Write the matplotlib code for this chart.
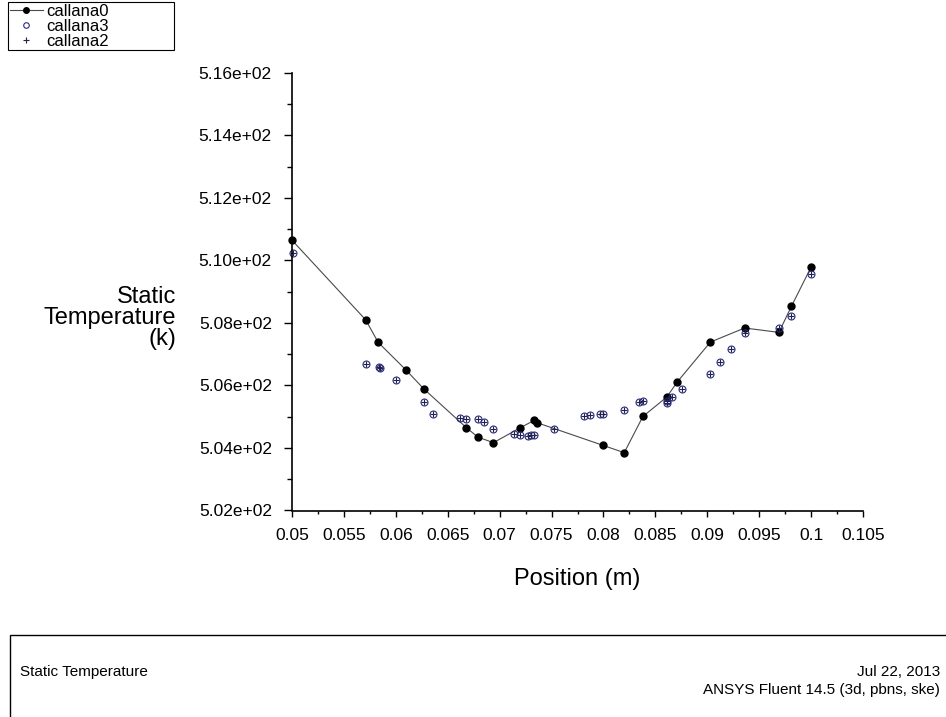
import matplotlib
matplotlib.use("Agg")
import matplotlib.pyplot as plt
from matplotlib.patches import Rectangle
from matplotlib.ticker import MultipleLocator, FormatStrFormatter, FuncFormatter

plt.rcParams['font.family'] = ['Liberation Sans', 'DejaVu Sans']

# callana0: line with filled circles
callana0_x = [0.0500, 0.0571, 0.0583, 0.0610, 0.0627, 0.0668, 0.0679, 0.0694,
              0.0720, 0.0733, 0.0736, 0.0800, 0.0820, 0.0838, 0.0861, 0.0871,
              0.0903, 0.0936, 0.0969, 0.0981, 0.1000]
callana0_y = [510.65, 508.10, 507.38, 506.49, 505.89, 504.65, 504.35, 504.17,
              504.65, 504.88, 504.81, 504.08, 503.85, 505.01, 505.63, 506.11,
              507.39, 507.84, 507.70, 508.53, 509.79]

# callana3: open circles
callana3_x = [0.0501, 0.0571, 0.0584, 0.0585, 0.0600, 0.0627, 0.0636, 0.0662,
              0.0668, 0.0679, 0.0685, 0.0694, 0.0714, 0.0720, 0.0727, 0.0730,
              0.0733, 0.0752, 0.0781, 0.0787, 0.0797, 0.0800, 0.0820, 0.0834,
              0.0838, 0.0861, 0.0866, 0.0861, 0.0876, 0.0903, 0.0912, 0.0923,
              0.0936, 0.0969, 0.0981, 0.1000]
callana3_y = [510.24, 506.69, 506.58, 506.57, 506.17, 505.48, 505.10, 504.97,
              504.94, 504.92, 504.84, 504.62, 504.46, 504.42, 504.39, 504.40,
              504.41, 504.62, 505.03, 505.06, 505.10, 505.10, 505.22, 505.46,
              505.51, 505.49, 505.62, 505.44, 505.89, 506.38, 506.75, 507.17,
              507.68, 507.84, 508.21, 509.58]

# callana2: plus markers (same positions as callana3)
callana2_x = list(callana3_x)
callana2_y = list(callana3_y)

fig = plt.figure(figsize=(9.46, 7.17), dpi=100)
ax = fig.add_axes([292 / 946, 1 - 510.5 / 717, (863 - 292) / 946, (510.5 - 73) / 717])

l0, = ax.plot(callana0_x, callana0_y, '-', color='#4a4a4a', linewidth=0.8,
              marker='o', markersize=5, markerfacecolor='black',
              markeredgecolor='black', clip_on=False, label='callana0')
l3, = ax.plot(callana3_x, callana3_y, linestyle='none', marker='o', markersize=5,
              markerfacecolor='none', markeredgecolor='#2a2a80', markeredgewidth=0.8,
              clip_on=False, label='callana3')
l2, = ax.plot(callana2_x, callana2_y, linestyle='none', marker='+', markersize=5,
              color='#222244', markeredgewidth=0.8, clip_on=False, label='callana2')

ax.set_xlim(0.05, 0.105)
ax.set_ylim(502, 516)
ax.xaxis.set_major_locator(MultipleLocator(0.005))
ax.xaxis.set_minor_locator(MultipleLocator(0.0025))
ax.yaxis.set_major_locator(MultipleLocator(2))
ax.yaxis.set_minor_locator(MultipleLocator(1))
ax.yaxis.set_major_formatter(FormatStrFormatter('%.2e'))
ax.xaxis.set_major_formatter(FuncFormatter(lambda v, p: '%g' % round(v, 4)))

for s in ['top', 'right']:
    ax.spines[s].set_visible(False)
for s in ['left', 'bottom']:
    ax.spines[s].set_linewidth(1.2)

ax.tick_params(axis='y', which='major', direction='out', length=6, width=1, pad=8.5, labelsize=12.5)
ax.tick_params(axis='y', which='minor', direction='out', length=3.5, width=1)
ax.tick_params(axis='x', which='major', direction='out', length=4.5, width=1, pad=8, labelsize=12.5)
ax.tick_params(axis='x', which='minor', direction='out', length=2.5, width=1)

ax.set_xlabel('Position (m)', fontsize=17, labelpad=18)
fig.text(176 / 946, 1 - 318 / 717, 'Static\nTemperature\n(k)', ha='right', va='center',
         fontsize=17, multialignment='right', linespacing=0.95)

leg = fig.legend(handles=[l0, l3, l2], loc='upper left',
                 bbox_to_anchor=(8 / 946, 1 - 40 / 717, 166 / 946, 38 / 717),
                 mode='expand', frameon=True, fancybox=False, edgecolor='black',
                 framealpha=1, fontsize=12, labelspacing=0.0, borderpad=0.1,
                 handlelength=2.0, handletextpad=0.2, borderaxespad=0, markerscale=0.8)
leg.get_frame().set_linewidth(0.8)

# footer box
fig.patches.append(Rectangle((10 / 946, -0.01), 1.0, 1 - 635 / 717 + 0.01,
                             transform=fig.transFigure, fill=False,
                             edgecolor='black', linewidth=1))
fig.text(20 / 946, 1 - 672 / 717, 'Static Temperature', ha='left', va='center', fontsize=11)
fig.text(940 / 946, 1 - 672 / 717, 'Jul 22, 2013', ha='right', va='center', fontsize=11)
fig.text(940 / 946, 1 - 690 / 717, 'ANSYS Fluent 14.5 (3d, pbns, ske)', ha='right',
         va='center', fontsize=11)

fig.savefig('out.png', dpi=100)
